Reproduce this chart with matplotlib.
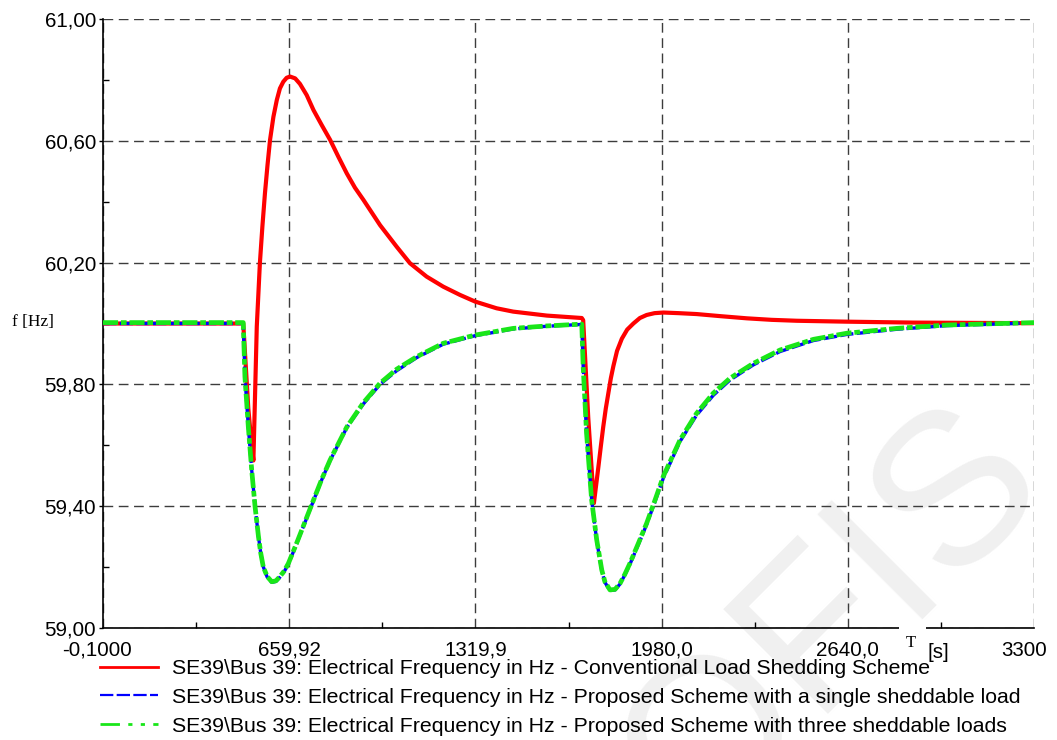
import matplotlib
matplotlib.use('Agg')
import matplotlib.pyplot as plt
import matplotlib.transforms as mtransforms
from matplotlib.lines import Line2D
from matplotlib.patches import Rectangle
from matplotlib.ticker import FixedLocator, FixedFormatter

plt.rcParams['font.family'] = ['Liberation Sans', 'DejaVu Sans']

# ---- data (time in s, frequency in Hz) ----
t_conv = [-0.1, 497, 506, 515, 524, 533, 539, 545, 556, 565, 574, 583, 592,
          604, 616, 627, 639, 651, 663, 681, 698, 722, 746, 775, 805, 834,
          864, 893, 923, 982, 1041, 1088, 1147, 1206, 1265, 1319, 1395, 1454,
          1573, 1697, 1702, 1711, 1720, 1730, 1740, 1748, 1756, 1765, 1773,
          1782, 1791, 1800, 1809, 1822, 1839, 1858, 1880, 1903, 1927, 1955,
          1986, 2040, 2104, 2190, 2282, 2370, 2459, 2636, 2872, 3300]
f_conv = [60.000, 60.000, 59.86, 59.72, 59.63, 59.55, 59.77, 59.99, 60.198,
          60.32, 60.428, 60.52, 60.603, 60.679, 60.734, 60.772, 60.794, 60.807,
          60.811, 60.805, 60.787, 60.750, 60.701, 60.652, 60.603, 60.548,
          60.493, 60.446, 60.406, 60.323, 60.252, 60.198, 60.154, 60.121,
          60.094, 60.072, 60.050, 60.039, 60.026, 60.018, 60.011, 59.85, 59.69,
          59.55, 59.41, 59.47, 59.53, 59.60, 59.66, 59.72, 59.77, 59.82, 59.86,
          59.91, 59.95, 59.98, 60.000, 60.018, 60.028, 60.034, 60.036, 60.034,
          60.031, 60.024, 60.017, 60.012, 60.009, 60.006, 60.003, 60.001]

t_single = [-0.1, 497, 503, 515, 527, 539, 551, 559, 568, 582, 598, 613, 627,
            642, 657, 686, 716, 746, 775, 805, 864, 923, 982, 1041, 1112, 1206,
            1319, 1454, 1573, 1697, 1702, 1714, 1732, 1750, 1768, 1779, 1797,
            1815, 1833, 1850, 1868, 1898, 1927, 1957, 1986, 2045, 2104, 2163,
            2222, 2305, 2400, 2518, 2636, 2813, 2991, 3300]
f_single = [60.000, 60.000, 59.825, 59.661, 59.519, 59.398, 59.300, 59.246,
            59.201, 59.167, 59.150, 59.153, 59.167, 59.185, 59.210, 59.276,
            59.347, 59.418, 59.486, 59.550, 59.658, 59.736, 59.800, 59.845,
            59.888, 59.932, 59.960, 59.982, 59.991, 59.997, 59.858, 59.639,
            59.420, 59.287, 59.188, 59.150, 59.123, 59.125, 59.145, 59.175,
            59.210, 59.275, 59.340, 59.416, 59.492, 59.612, 59.699, 59.764,
            59.814, 59.864, 59.908, 59.944, 59.964, 59.981, 59.993, 60.002]

t_three = [-0.1, 497, 503, 515, 527, 539, 551, 559, 568, 582, 598, 613, 627,
           642, 657, 686, 716, 746, 775, 805, 864, 923, 982, 1041, 1112, 1206,
           1319, 1454, 1573, 1697, 1702, 1714, 1732, 1750, 1768, 1779, 1797,
           1815, 1833, 1850, 1868, 1898, 1927, 1957, 1986, 2045, 2104, 2163,
           2222, 2305, 2400, 2518, 2636, 2813, 2991, 3300]
f_three = [60.003, 60.003, 59.825, 59.661, 59.519, 59.398, 59.300, 59.246,
           59.201, 59.169, 59.152, 59.155, 59.169, 59.187, 59.212, 59.278,
           59.349, 59.420, 59.488, 59.552, 59.660, 59.740, 59.804, 59.850,
           59.891, 59.935, 59.962, 59.984, 59.992, 59.998, 59.858, 59.639,
           59.420, 59.289, 59.190, 59.152, 59.125, 59.127, 59.147, 59.177,
           59.213, 59.279, 59.344, 59.421, 59.498, 59.617, 59.705, 59.771,
           59.820, 59.869, 59.913, 59.948, 59.968, 59.984, 59.995, 60.003]

labels = [
    r'SE39\Bus 39: Electrical Frequency in Hz - Conventional Load Shedding Scheme',
    r'SE39\Bus 39: Electrical Frequency in Hz - Proposed Scheme with a single sheddable load',
    r'SE39\Bus 39: Electrical Frequency in Hz - Proposed Scheme with three sheddable loads',
]

x_ticks = [-0.1, 659.92, 1319.9, 1980.0, 2640.0, 3300]
x_ticklabels = ['-0,1000', '659,92', '1319,9', '1980,0', '2640,0', '3300']
x_minor = [329.91, 989.96, 1649.95, 2310.0, 2970.0]
y_ticks = [59.0, 59.4, 59.8, 60.2, 60.6, 61.0]
y_ticklabels = ['59,00', '59,40', '59,80', '60,20', '60,60', '61,00']
y_minor = [59.2, 59.6, 60.0, 60.4, 60.8]

RED = '#ff0000'
BLUE = '#0000ff'
GREEN = '#19e619'

fig = plt.figure(figsize=(10.57, 7.40), dpi=100, facecolor='white')
ax = fig.add_axes([103 / 1057, 1 - 628 / 740, 931 / 1057, 609 / 740])
ax.patch.set_visible(False)

# faint watermark in the background
fig.text(834 / 1057, 1 - 620 / 740, 'OFIS', rotation=45, fontsize=155,
         color='#f0f0f0', ha='center', va='center', zorder=-1)

ax.plot(t_conv, f_conv, color=RED, lw=3.0, zorder=3, solid_joinstyle='round')
ax.plot(t_single, f_single, color=BLUE, lw=2.4, dashes=(4, 1), zorder=4)
ax.plot(t_three, f_three, color=GREEN, lw=3.4, dashes=(3.2, 0.6, 1.2, 0.6), zorder=5)

ax.set_xlim(-0.1, 3300)
ax.set_ylim(59.0, 61.0)

ax.xaxis.set_major_locator(FixedLocator(x_ticks))
ax.xaxis.set_major_formatter(FixedFormatter(x_ticklabels))
ax.xaxis.set_minor_locator(FixedLocator(x_minor))
ax.yaxis.set_major_locator(FixedLocator(y_ticks))
ax.yaxis.set_major_formatter(FixedFormatter(y_ticklabels))
ax.yaxis.set_minor_locator(FixedLocator(y_minor))

ax.grid(True, which='major', color='#3c3c3c', lw=1.0, linestyle=(0, (7, 4)))
for s in ['top', 'right']:
    ax.spines[s].set_visible(False)
for s in ['left', 'bottom']:
    ax.spines[s].set_linewidth(1.2)
    ax.spines[s].set_color('black')

ax.tick_params(axis='y', which='major', direction='out', length=3, width=1,
               pad=2, labelsize=14.8)
ax.tick_params(axis='y', which='minor', direction='in', length=4, width=1)
ax.tick_params(axis='x', which='major', length=0, pad=9, labelsize=14.8)
ax.tick_params(axis='x', which='minor', direction='in', length=4, width=1)

# nudge the end labels like the original
xl = ax.get_xticklabels()
xl[0].set_transform(xl[0].get_transform() +
                    mtransforms.ScaledTranslation(-6 / 100, 0, fig.dpi_scale_trans))
xl[-1].set_transform(xl[-1].get_transform() +
                     mtransforms.ScaledTranslation(-10 / 100, 0, fig.dpi_scale_trans))

# gap in the time axis under the unit label
ax.add_patch(Rectangle((0.855, -0.006), 0.029, 0.012, transform=ax.transAxes,
                       facecolor='white', edgecolor='none', clip_on=False, zorder=10))

fig.text(12 / 1057, 1 - 322 / 740, 'f [Hz]', family='Liberation Serif',
         fontsize=12.5, ha='left', va='center')
fig.text(911 / 1057, 1 - 643 / 740, 'T', family='Liberation Serif',
         fontsize=12, ha='center', va='center')
fig.text(938 / 1057, 1 - 652 / 740, '[s]', fontsize=14.8, ha='center', va='center')

handles = [
    Line2D([], [], color=RED, lw=2.0),
    Line2D([], [], color=BLUE, lw=1.6, dashes=(6, 1.5)),
    Line2D([], [], color=GREEN, lw=2.0, dashes=(7, 3, 1.5, 3, 1.5, 3)),
]
fig.legend(handles, labels, loc='upper left',
           bbox_to_anchor=(100 / 1057, 1 - 659 / 740), frameon=False,
           fontsize=15.3, handlelength=2.73, handletextpad=0.66, labelspacing=0.46,
           borderpad=0, borderaxespad=0)

fig.savefig('out.png', dpi=100, facecolor='white')
